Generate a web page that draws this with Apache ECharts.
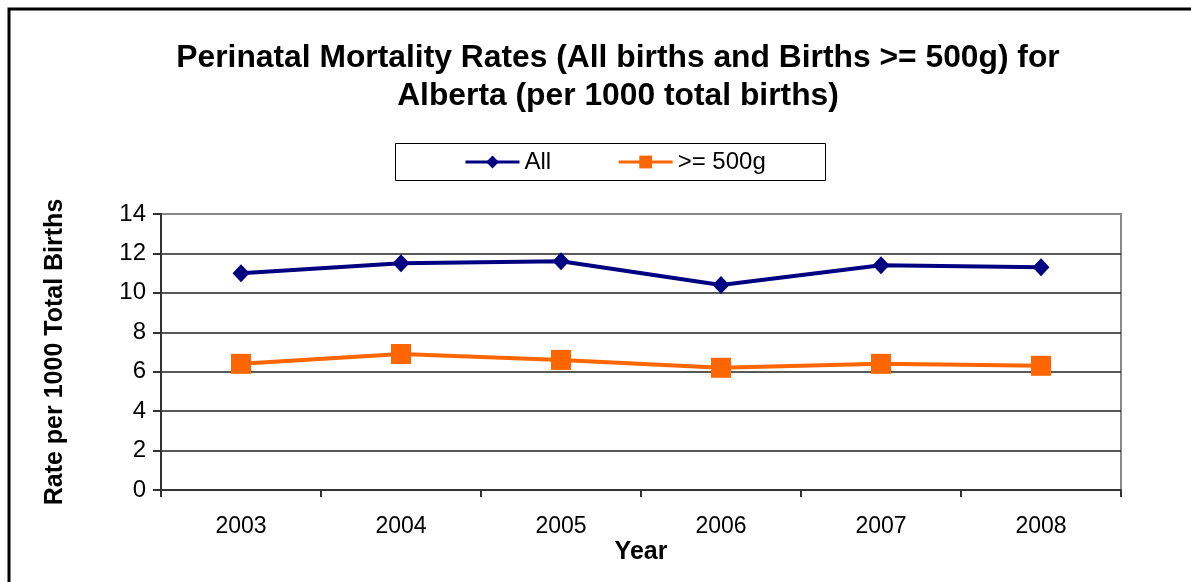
<!DOCTYPE html>
<html>
<head>
<meta charset="utf-8">
<script src="https://cdn.jsdelivr.net/npm/echarts@6/dist/echarts.min.js"></script>
<style>
html, body { margin: 0; padding: 0; background: #fff; }
#chart { width: 1191px; height: 582px; }
</style>
</head>
<body>
<div id="chart"></div>
<script>
// data
var years = ['2003', '2004', '2005', '2006', '2007', '2008'];
var allBirths = [11.0, 11.5, 11.6, 10.4, 11.4, 11.3];
var over500g = [6.4, 6.9, 6.6, 6.2, 6.4, 6.3];
var seriesNames = ['All', '>= 500g'];

initMortalityChart();

// draw the chart
function initMortalityChart() {
	var myChart = echarts.init(document.getElementById('chart'));
	var font = 'Liberation Sans, Arial, sans-serif';
	option = {
		backgroundColor : '#fff',
		animation : false,
		title : {
			text : 'Perinatal Mortality Rates (All births and Births >= 500g) for\nAlberta (per 1000 total births)',
			// the title is centred a bit right of the page middle
			left : 613,
			textAlign : 'center',
			top : 34,
			textStyle : {
				fontFamily : font,
				fontSize : 31.8,
				fontWeight : 'bold',
				color : '#000',
				lineHeight : 38
			}
		},
		graphic : [ {
			type : 'rect',
			shape : { x : 9, y : 9, width : 1300, height : 700 },
			style : { fill : null, stroke : '#000', lineWidth : 3 },
			silent : true
		}, {
			type : 'rect',
			shape : { x : 395.5, y : 143.5, width : 430, height : 37 },
			style : { fill : null, stroke : '#000', lineWidth : 1 },
			silent : true
		} ],
		legend : {
			data : seriesNames,
			left : 464,
			top : 150,
			padding : 0,
			itemGap : 66,
			itemWidth : 54,
			itemHeight : 16,
			lineStyle : { width : 3 },
			textStyle : {
				fontFamily : font,
				fontSize : 24,
				color : '#000',
				lineHeight : 24
			}
		},
		grid : {
			left : 161,
			right : 70,
			top : 214,
			bottom : 92,
			show : true,
			borderColor : '#888',
			borderWidth : 2
		},
		xAxis : {
			type : 'category',
			data : years,
			boundaryGap : true,
			name : 'Year',
			nameLocation : 'middle',
			nameGap : 50,
			nameTextStyle : {
				fontFamily : font,
				fontSize : 25,
				fontWeight : 'bold',
				color : '#000'
			},
			axisLine : { lineStyle : { color : '#333', width : 2 } },
			axisTick : { show : true, length : 7, alignWithLabel : false, lineStyle : { color : '#333', width : 2 } },
			axisLabel : {
				fontFamily : font,
				fontSize : 23,
				color : '#000',
				margin : 25
			}
		},
		yAxis : {
			type : 'value',
			min : 0,
			max : 14,
			interval : 2,
			name : 'Rate per 1000 Total Births',
			nameLocation : 'middle',
			nameGap : 93,
			nameTextStyle : {
				fontFamily : font,
				fontSize : 25,
				fontWeight : 'bold',
				color : '#000'
			},
			axisLine : { show : true, lineStyle : { color : '#333', width : 2 } },
			axisTick : { show : true, length : 8, lineStyle : { color : '#333', width : 2 } },
			axisLabel : {
				fontFamily : font,
				fontSize : 24,
				color : '#000',
				margin : 15
			},
			splitLine : {
				show : true,
				lineStyle : {
					color : [ '#222', '#222', '#222', '#222', '#222', '#222', '#222', '#888' ],
					width : 1.5
				}
			}
		},
		series : [ {
			name : seriesNames[0],
			type : 'line',
			data : allBirths,
			symbol : 'diamond',
			symbolSize : [ 17, 18 ],
			color : '#000080',
			lineStyle : { color : '#000080', width : 4 },
			itemStyle : { color : '#000080' }
		}, {
			name : seriesNames[1],
			type : 'line',
			data : over500g,
			symbol : 'rect',
			symbolSize : 20,
			color : '#ff6600',
			lineStyle : { color : '#ff6600', width : 4 },
			itemStyle : { color : '#ff6600' }
		} ]
	};
	myChart.setOption(option);
}
</script>
</body>
</html>
